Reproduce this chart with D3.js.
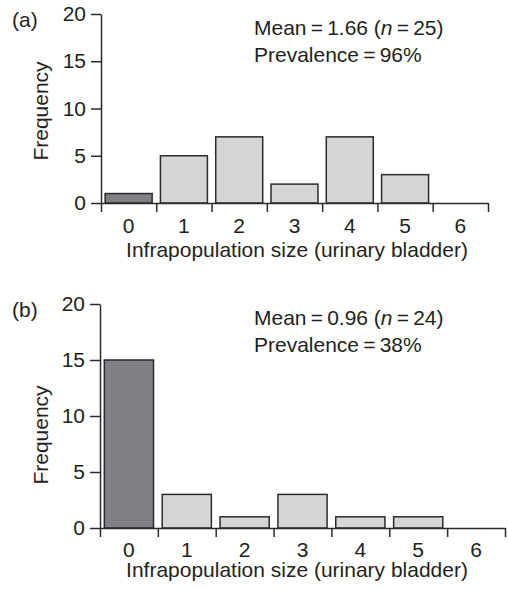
<!DOCTYPE html>
<html lang="en">
<head>
  <meta charset="UTF-8">
  <title>Infrapopulation size</title>
  <script src="https://cdn.jsdelivr.net/npm/d3@7"></script>
  <style>
    body { margin: 0; background: #fff; }
    text { font-family: "Liberation Sans", Arial, sans-serif; fill: #231f20; }
  </style>
</head>
<body>
<div id="chart"></div>
<script>
  // data
  var bins = [0, 1, 2, 3, 4, 5, 6];
  var freqA = [1, 5, 7, 2, 7, 3, 0];
  var freqB = [15, 3, 1, 3, 1, 1, 0];
  var yTicks = [0, 5, 10, 15, 20];
  var panelTags = ["(a)", "(b)"];
  var means = ["1.66", "0.96"];
  var ns = ["25", "24"];
  var prevalences = ["96%", "38%"];
  var xTitle = "Infrapopulation size (urinary bladder)";
  var yTitle = "Frequency";

  var W = 508, H = 589;
  var fs = 21;
  var squash = 0.93; // the print is a bit flattened vertically
  var dark = "#808185", light = "#d4d5d7", ink = "#2b2b2b";

  var svg = d3.select("#chart").append("svg")
    .attr("width", W)
    .attr("height", H);

  // panel boxes (pixels)
  var panels = [
    {left: 101, right: 488, top: 14, bottom: 203, tickDy: 30, titleDy: 54, yMid: 111, counts: freqA},
    {left: 100, right: 505, top: 304, bottom: 528, tickDy: 29, titleDy: 49, yMid: 435, counts: freqB}
  ];

  panels.forEach(function(p, k) {
    drawPanel(p, k);
  });

  // horizontal text, flattened like the original
  function flatText(g, x, y) {
    return g.append("text")
      .attr("transform", "translate(" + x + "," + y + ") scale(1," + squash + ")")
      .attr("font-size", fs);
  }

  function drawPanel(p, k) {
    var g = svg.append("g");
    var x = d3.scaleLinear().domain([0, bins.length]).range([p.left, p.right]);
    var y = d3.scaleLinear().domain([0, 20]).range([p.bottom, p.top]);
    var binW = x(1) - x(0);
    var inset = binW * 0.075;

    // bars
    g.selectAll("rect.bar")
      .data(bins.filter(function(b) { return p.counts[b] > 0; }))
      .enter().append("rect")
      .attr("class", "bar")
      .attr("x", function(b) { return x(b) + inset; })
      .attr("width", binW - 2 * inset)
      .attr("y", function(b) { return y(p.counts[b]); })
      .attr("height", function(b) { return y(0) - y(p.counts[b]); })
      .attr("fill", function(b) { return b === 0 ? dark : light; })
      .attr("stroke", ink)
      .attr("stroke-width", 1.5);

    // y axis
    var yAxis = g.append("g")
      .attr("transform", "translate(" + p.left + ",0)")
      .call(d3.axisLeft(y).tickValues(yTicks).tickSize(10).tickSizeOuter(0).tickFormat(""));
    // x axis: ticks on bin edges
    var xAxis = g.append("g")
      .attr("transform", "translate(0," + p.bottom + ")")
      .call(d3.axisBottom(x).tickValues(d3.range(bins.length + 1)).tickFormat("").tickSize(9).tickSizeOuter(0));
    [yAxis, xAxis].forEach(function(a) {
      a.select(".domain").attr("stroke", ink).attr("stroke-width", 1.5);
      a.selectAll(".tick line").attr("stroke", ink).attr("stroke-width", 1.5);
    });

    // y tick labels
    yTicks.forEach(function(v) {
      flatText(g, p.left - 15, y(v) + 7)
        .attr("text-anchor", "end")
        .text(v);
    });

    // x tick labels at bin centres
    bins.forEach(function(b) {
      flatText(g, x(b + 0.5), p.bottom + p.tickDy)
        .attr("text-anchor", "middle")
        .text(b);
    });

    flatText(g, 297, p.bottom + p.titleDy)
      .attr("text-anchor", "middle")
      .text(xTitle);

    g.append("text")
      .attr("transform", "translate(48," + p.yMid + ") rotate(-90)")
      .attr("text-anchor", "middle")
      .attr("font-size", fs)
      .text(yTitle);

    flatText(g, 12, p.top + 13).text(panelTags[k]);

    var sx = 254;
    var t1 = flatText(g, sx, p.top + 21);
    t1.append("tspan").text("Mean\u2009=\u2009" + means[k] + " (");
    t1.append("tspan").attr("font-style", "italic").text("n");
    t1.append("tspan").text("\u2009=\u2009" + ns[k] + ")");

    flatText(g, sx, p.top + 48).text("Prevalence\u2009=\u2009" + prevalences[k]);
  }
</script>
</body>
</html>
